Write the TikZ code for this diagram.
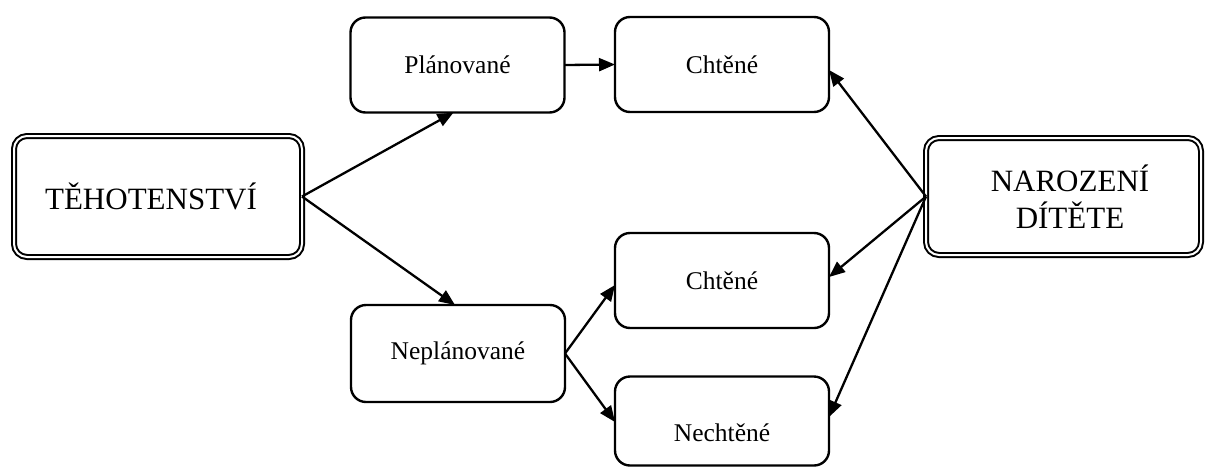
\documentclass[tikz,border=0pt]{standalone}
\usepackage{fontspec}
\setmainfont{Liberation Serif}
\usetikzlibrary{arrows.meta,calc}
\tikzset{
  bigbox/.style={draw=black, line width=2pt, double=white, double distance=2pt,
    rounded corners=13pt, inner sep=0pt, outer sep=0pt, align=center,
    font=\fontsize{31}{37}\selectfont},
  smallbox/.style={draw=black, line width=2.4pt, rounded corners=15pt, inner sep=0pt,
    outer sep=0pt, minimum width=214pt, minimum height=95pt,
    font=\fontsize{25.5}{30}\selectfont},
  lbl/.style={inner sep=0pt, font=\fontsize{25.5}{30}\selectfont},
  arr/.style={line width=2.3pt, -{Triangle[length=16pt,width=13pt]}}
}
\begin{document}
\begin{tikzpicture}[x=1pt,y=-1pt]
\useasboundingbox (0,0) rectangle (1206,466);
% big boxes
\node[bigbox, minimum width=288pt, minimum height=121pt] (teh) at (158,196.5) {};
\node[inner sep=0pt, font=\fontsize{31}{37}\selectfont] (tehT) at (151,196) {TĚHOTENSTVÍ};
\node[bigbox, minimum width=275pt, minimum height=117pt] (nar) at (1063.5,196.5) {};
\node[inner sep=0pt, align=center, font=\fontsize{31}{37}\selectfont] (narT) at (1070,197) {NAROZENÍ\\DÍTĚTE};
% small boxes
\node[smallbox] (plan) at (457.5,65) {Plánované};
\node[smallbox] (cht1) at (722,64.5) {Chtěné};
\node[smallbox, minimum height=97pt] (nepl) at (458,353.5) {Neplánované};
\node[smallbox] (cht2) at (722,280.5) {Chtěné};
\node[smallbox, minimum height=89pt] (necht) at (722,421) {};
\node[lbl] (nechtT) at (722,433) {Nechtěné};
% arrows
\draw[arr] (teh.east) -- ($(plan.south)+(-4,0)$);
\draw[arr] (teh.east) -- ($(nepl.north)+(-3,0)$);
\draw[arr] (plan.east) -- (cht1.west);
\draw[arr] (nepl.east) -- ($(cht2.west)+(0,4.5)$);
\draw[arr] (nepl.east) -- ($(necht.west)+(0,1)$);
\draw[arr] (nar.west) -- ($(cht1.east)+(0,5.5)$);
\draw[arr] (nar.west) -- ($(cht2.east)+(0,-3.5)$);
\draw[arr] (nar.west) -- ($(necht.east)+(0,-4)$);
\end{tikzpicture}
\end{document}
